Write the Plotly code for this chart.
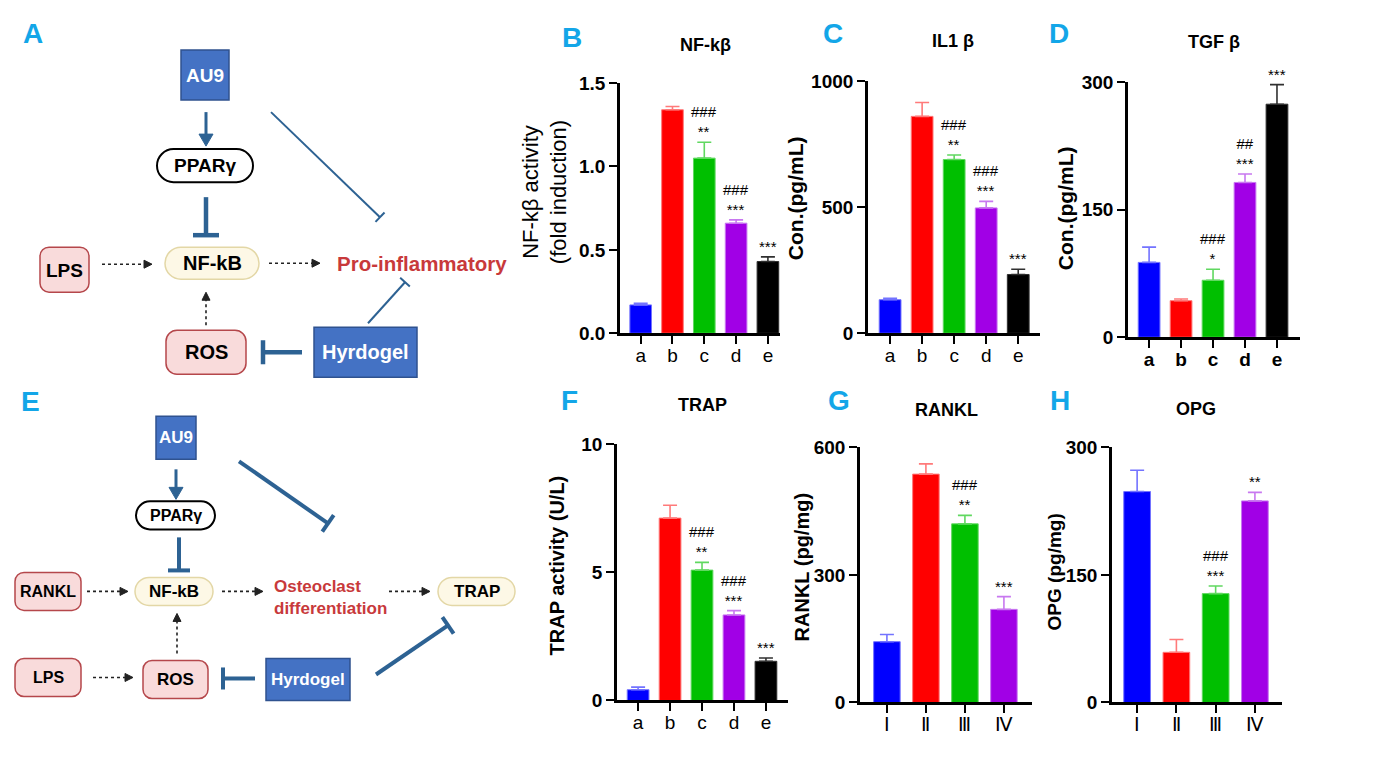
import plotly.graph_objects as go

# ---------------- data ----------------
cats5 = ["a", "b", "c", "d", "e"]
cats4 = ["Ⅰ", "Ⅱ", "Ⅲ", "Ⅳ"]

nfkb_mean = [0.17, 1.34, 1.05, 0.66, 0.43]
nfkb_err = [0.01, 0.02, 0.095, 0.02, 0.028]
nfkb_sig = ["", "", "###<br>**", "###<br>***", "***"]

il1b_mean = [133, 860, 689, 497, 233]
il1b_err = [6, 55, 18, 26, 21]
il1b_sig = ["", "", "###<br>**", "###<br>***", "***"]

tgfb_mean = [88, 43, 67, 182, 274]
tgfb_err = [18, 2, 13, 10, 23]
tgfb_sig = ["", "", "###<br>*", "##<br>***", "***"]

trap_mean = [0.42, 7.12, 5.09, 3.34, 1.53]
trap_err = [0.10, 0.50, 0.30, 0.17, 0.13]
trap_sig = ["", "", "###<br>**", "###<br>***", "***"]

rankl_mean = [143, 537, 420, 219]
rankl_err = [17, 24, 20, 30]
rankl_sig = ["", "", "###<br>**", "***"]

opg_mean = [248, 59, 128, 237]
opg_err = [25, 15, 9, 10]
opg_sig = ["", "", "###<br>***", "**"]

BAR_COL = ["#0000FF", "#FF0000", "#00BF00", "#A100E6", "#000000"]
ERR_COL = ["#7373FF", "#FF7A7A", "#60D860", "#C878F0", "#303030"]

W, H = 1390, 757
OFF = 8
FW, FH = W - 2 * OFF, H - 2 * OFF
# observed vertical mapping of the photographed page: shown_y = VA + VB * page_y
VA, VB = 10.2, 0.971
FONT = "Liberation Sans, Arial, sans-serif"
CYAN = "#13A6E8"
LC = "#2D6293"
BLUE_FILL, BLUE_LINE = "#4472C4", "#2F528F"
PINK_FILL, PINK_LINE = "#F9DBDB", "#B5474B"
CREAM_FILL, CREAM_LINE = "#FDF8E6", "#E3D7A6"
RED_TXT = "#C8393B"

def px(x):
    return (x - OFF) / FW

def py(y):
    yd = (y - VA) / VB
    return 1 - (yd - OFF) / FH

panels = [
    dict(cats=cats5, mean=nfkb_mean, err=nfkb_err, sig=nfkb_sig, dom=(620, 780, 83, 333),
         xr=(-0.65, 4.38), yr=(0, 1.5), dt=0.5, fmt=".1f", title="NF-kβ", tpos=(705, 45),
         letter="B", lpos=(572, 37), ytitle="NF-kβ activity<br>(fold induction)", ypos=(545, 192),
         ybold=False, xbold=False, ysize=22),
    dict(cats=cats5, mean=il1b_mean, err=il1b_err, sig=il1b_sig, dom=(868, 1040, 81, 333),
         xr=(-0.69, 4.68), yr=(0, 1000), dt=500, fmt="d", title="IL1 β", tpos=(953, 41),
         letter="C", lpos=(833, 33), ytitle="Con.(pg/mL)", ypos=(795, 198), ybold=True, xbold=False,
         ysize=21),
    dict(cats=cats5, mean=tgfb_mean, err=tgfb_err, sig=tgfb_sig, dom=(1128, 1300, 82, 337),
         xr=(-0.66, 4.72), yr=(0, 300), dt=150, fmt="d", title="TGF β", tpos=(1214, 42),
         letter="D", lpos=(1059, 33), ytitle="Con.(pg/mL)", ypos=(1065, 208), ybold=True, xbold=True,
         ysize=21),
    dict(cats=cats5, mean=trap_mean, err=trap_err, sig=trap_sig, dom=(617, 788, 444, 700),
         xr=(-0.66, 4.69), yr=(0, 10), dt=5, fmt="d", title="TRAP", tpos=(702, 405),
         letter="F", lpos=(569, 400), ytitle="TRAP activity (U/L)", ypos=(557, 565), ybold=True,
         xbold=False, ysize=20),
    dict(cats=cats4, mean=rankl_mean, err=rankl_err, sig=rankl_sig, dom=(860, 1032, 447, 702),
         xr=(-0.69, 3.72), yr=(0, 600), dt=300, fmt="d", title="RANKL", tpos=(946, 410),
         letter="G", lpos=(839, 400), ytitle="RANKL (pg/mg)", ypos=(802, 567), ybold=True,
         xbold=False, ysize=20),
    dict(cats=cats4, mean=opg_mean, err=opg_err, sig=opg_sig, dom=(1112, 1282, 447, 702),
         xr=(-0.64, 3.69), yr=(0, 300), dt=150, fmt="d", title="OPG", tpos=(1196, 409),
         letter="H", lpos=(1060, 400), ytitle="OPG (pg/mg)", ypos=(1054, 572), ybold=True,
         xbold=False, ysize=19),
]

fig = go.Figure()
annotations = []
shapes = []

def paper_text(x, y, t, size, color="black", bold=True, angle=0):
    annotations.append(dict(x=px(x), y=py(y), xref="paper", yref="paper", text=t, showarrow=False,
                            xanchor="center", yanchor="middle", textangle=angle,
                            font=dict(family=FONT, size=size, color=color,
                                      weight="bold" if bold else "normal")))

for i, p in enumerate(panels, start=1):
    xa = "x" if i == 1 else f"x{i}"
    ya = "y" if i == 1 else f"y{i}"
    for j, c in enumerate(p["cats"]):
        fig.add_trace(go.Bar(
            x=[c], y=[p["mean"][j]], xaxis=xa, yaxis=ya, width=0.68,
            marker=dict(color=BAR_COL[j], line=dict(color=ERR_COL[j], width=1)),
            error_y=dict(type="data", array=[p["err"][j]], arrayminus=[0], symmetric=False,
                         color=ERR_COL[j], thickness=1.6, width=7),
            showlegend=False, hoverinfo="skip"))
        if p["sig"][j]:
            annotations.append(dict(
                x=c, y=p["mean"][j] + p["err"][j], xref=xa, yref=ya, text=p["sig"][j],
                showarrow=False, xanchor="center", yanchor="bottom", yshift=0,
                font=dict(family=FONT, size=15, color="black")))
    x0, x1, y0, y1 = p["dom"]
    ticks = []
    v = p["yr"][0]
    while v <= p["yr"][1] + 1e-9:
        ticks.append(v)
        v += p["dt"]
    if p["fmt"] == ".1f":
        ttext = [f"{t:.1f}" for t in ticks]
    else:
        ttext = [str(int(round(t))) for t in ticks]
    axx = dict(domain=[px(x0), px(x1)], anchor=ya, range=list(p["xr"]), type="category",
               categoryorder="array", categoryarray=p["cats"],
               showline=True, linecolor="black", linewidth=2.6, ticks="outside", ticklen=8,
               tickwidth=2.4, tickcolor="black", showgrid=False, zeroline=False, fixedrange=True,
               ticklabelstandoff=-5,
               tickfont=dict(family=FONT, size=19, color="black",
                             weight="bold" if p["xbold"] else "normal"))
    axy = dict(domain=[py(y1), py(y0)], anchor=xa, range=list(p["yr"]), tickvals=ticks, ticktext=ttext,
               showline=True, linecolor="black", linewidth=2.6, ticks="outside", ticklen=8,
               tickwidth=2.4, tickcolor="black", showgrid=False, zeroline=False, fixedrange=True,
               tickfont=dict(family=FONT, size=19, color="black", weight="bold"))
    fig.layout["xaxis" if i == 1 else f"xaxis{i}"] = axx
    fig.layout["yaxis" if i == 1 else f"yaxis{i}"] = axy
    paper_text(p["tpos"][0], p["tpos"][1], p["title"], 18)
    paper_text(p["lpos"][0], p["lpos"][1], p["letter"], 28, CYAN)
    paper_text(p["ypos"][0], p["ypos"][1], p["ytitle"], p["ysize"], bold=p["ybold"], angle=-90)

# ---------------- diagram helpers (shown-pixel coordinates on a hidden full-figure axis) ----------------
DX, DY = "x7", "y7"
fig.add_trace(go.Scatter(x=[], y=[], xaxis=DX, yaxis=DY, showlegend=False))
fig.layout["xaxis7"] = dict(domain=[0, 1], range=[OFF, OFF + FW], visible=False, fixedrange=True, anchor=DY)
fig.layout["yaxis7"] = dict(domain=[0, 1], range=[VA + VB * (OFF + FH), VA + VB * OFF], visible=False,
                            fixedrange=True, anchor=DX)

K = 0.5523

def rrect_path(x0, y0, x1, y1, r):
    k = K * r
    return (f"M{x0 + r},{y0} L{x1 - r},{y0} C{x1 - r + k},{y0} {x1},{y0 + r - k} {x1},{y0 + r} "
            f"L{x1},{y1 - r} C{x1},{y1 - r + k} {x1 - r + k},{y1} {x1 - r},{y1} "
            f"L{x0 + r},{y1} C{x0 + r - k},{y1} {x0},{y1 - r + k} {x0},{y1 - r} "
            f"L{x0},{y0 + r} C{x0},{y0 + r - k} {x0 + r - k},{y0} {x0 + r},{y0} Z")

def box(x0, y0, x1, y1, r, fill, line, lw):
    shapes.append(dict(type="path", xref=DX, yref=DY, path=rrect_path(x0, y0, x1, y1, r),
                       fillcolor=fill, line=dict(color=line, width=lw), layer="above"))

def text(x, y, t, size, color="black", bold=True, xanchor="center", align="center"):
    annotations.append(dict(x=x, y=y, xref=DX, yref=DY, text=t, showarrow=False, xanchor=xanchor,
                            yanchor="middle", align=align,
                            font=dict(family=FONT, size=size, color=color,
                                      weight="bold" if bold else "normal")))

def line(x0, y0, x1, y1, color, width, dash="solid"):
    shapes.append(dict(type="line", xref=DX, yref=DY, x0=x0, y0=y0, x1=x1, y1=y1,
                       line=dict(color=color, width=width, dash=dash), layer="above"))

def head(tx, ty, dx, dy, length, half, color):
    n = (dx * dx + dy * dy) ** 0.5
    ux, uy = dx / n, dy / n
    bx, by = tx - ux * length, ty - uy * length
    path = (f"M{tx},{ty} L{bx - uy * half},{by + ux * half} L{bx + uy * half},{by - ux * half} Z")
    shapes.append(dict(type="path", xref=DX, yref=DY, path=path, fillcolor=color,
                       line=dict(color=color, width=1), layer="above"))

def dashed_arrow(x0, y0, x1, y1):
    dx, dy = x1 - x0, y1 - y0
    n = (dx * dx + dy * dy) ** 0.5
    line(x0, y0, x1 - dx / n * 7, y1 - dy / n * 7, "#222222", 1.6, "3px,3px")
    head(x1, y1, dx, dy, 8, 4, "#222222")

def solid_arrow(x0, y0, x1, y1, width):
    dx, dy = x1 - x0, y1 - y0
    n = (dx * dx + dy * dy) ** 0.5
    line(x0, y0, x1 - dx / n * 10, y1 - dy / n * 10, LC, width)
    head(x1, y1, dx, dy, 12, 7, LC)

def inhibit(x0, y0, x1, y1, width, half):
    dx, dy = x1 - x0, y1 - y0
    n = (dx * dx + dy * dy) ** 0.5
    ux, uy = dx / n, dy / n
    line(x0, y0, x1, y1, LC, width)
    line(x1 - uy * half, y1 + ux * half, x1 + uy * half, y1 - ux * half, LC, width)

# ---------------- diagram A ----------------
text(33, 33, "A", 28, CYAN)
box(181, 50, 229, 100, 0, BLUE_FILL, BLUE_LINE, 1.5)
text(205, 75, "AU9", 19, "white")
solid_arrow(206, 112, 206, 146, 3)
box(157, 149, 253, 182, 16.5, "white", "black", 2)
text(205, 165.5, "PPARγ", 19)
inhibit(206, 197, 206, 235, 4.5, 13)
box(165, 247, 259, 279, 16, CREAM_FILL, CREAM_LINE, 1.5)
text(212, 263, "NF-kB", 20)
box(40, 247, 89, 292, 9, PINK_FILL, PINK_LINE, 1.5)
text(64.5, 270, "LPS", 19)
dashed_arrow(102, 264, 152, 264)
dashed_arrow(269, 263, 320, 263)
text(422, 263, "Pro-inflammatory", 20.5, RED_TXT)
inhibit(271, 112, 380, 217, 2, 6.5)
inhibit(368, 323, 405, 282, 2, 6.5)
box(166, 330, 246, 374, 11, PINK_FILL, PINK_LINE, 1.5)
text(206, 352, "ROS", 20)
dashed_arrow(206, 325, 206, 292)
box(314, 327, 417, 377, 0, BLUE_FILL, BLUE_LINE, 1.5)
text(365.5, 352, "Hyrdogel", 20, "white")
inhibit(302, 352, 263, 352, 4.5, 12)

# ---------------- diagram E ----------------
text(30, 401, "E", 28, CYAN)
box(156, 416, 196, 459, 0, BLUE_FILL, BLUE_LINE, 1.5)
text(176, 437.5, "AU9", 17, "white")
solid_arrow(176, 469, 176, 499, 3)
box(136, 501, 215, 529, 14, "white", "black", 2)
text(175.5, 515, "PPARγ", 16)
inhibit(179, 537, 179, 570, 4, 11)
box(135, 577, 213, 605, 14, CREAM_FILL, CREAM_LINE, 1.5)
text(174, 591, "NF-kB", 17)
box(15, 572, 81, 610, 9, PINK_FILL, PINK_LINE, 1.5)
text(48, 591, "RANKL", 16)
dashed_arrow(87, 591, 128, 591)
dashed_arrow(222, 591, 263, 591)
text(272, 597, "Osteoclast<br>differentiation", 17, RED_TXT, xanchor="left", align="left")
dashed_arrow(389, 591, 430, 591)
box(438, 577, 515, 605, 14, CREAM_FILL, CREAM_LINE, 1.5)
text(476.5, 591, "TRAP", 17)
inhibit(239, 461, 328, 523, 4, 10)
box(15, 658, 81, 696, 9, PINK_FILL, PINK_LINE, 1.5)
text(48, 677, "LPS", 16)
dashed_arrow(93, 677, 133, 677)
box(143, 660, 208, 698, 9, PINK_FILL, PINK_LINE, 1.5)
text(175.5, 679, "ROS", 17)
dashed_arrow(177, 653, 177, 613)
box(266, 658, 350, 700, 0, BLUE_FILL, BLUE_LINE, 1.5)
text(308, 679, "Hyrdogel", 17, "white")
inhibit(255, 678, 223, 678, 4, 11)
inhibit(376, 674, 448, 625, 4, 10)

fig.update_layout(
    width=FW, height=FH, margin=dict(l=0, r=0, t=0, b=0), autosize=False,
    paper_bgcolor="white", plot_bgcolor="rgba(0,0,0,0)", barmode="overlay",
    annotations=annotations, shapes=shapes, showlegend=False,
    font=dict(family=FONT, color="black"),
)

fig.write_html("out.html", config={"displayModeBar": False, "responsive": False})
